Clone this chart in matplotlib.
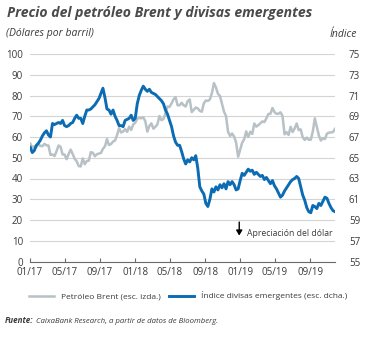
import matplotlib
matplotlib.use("Agg")
import matplotlib.pyplot as plt
from matplotlib.lines import Line2D
import pandas as pd

# ---------------- data (weekly) ----------------
start_date = "2017-01-02"

brent = [56.8, 54.9, 55.5, 55.2, 56.5, 55.7, 55.6, 56.7, 56.0, 55.9,
         51.4, 51.6, 50.8, 53.1, 55.9, 55.3, 51.6, 51.5, 49.3, 51.8,
         53.9, 51.8, 49.5, 48.3, 46.0, 45.8, 49.7, 46.9, 48.4, 48.6,
         52.7, 52.4, 50.7, 51.7, 52.0, 52.3, 54.3, 55.5, 59.0, 56.1,
         56.6, 57.8, 58.3, 60.9, 64.3, 62.2, 62.6, 63.8, 62.5, 65.0,
         63.4, 66.0, 66.9, 68.8, 69.2, 69.0, 69.5, 67.6, 62.6, 65.3,
         66.6, 64.0, 64.9, 66.1, 70.1, 68.1, 68.7, 71.4, 74.7, 74.5,
         76.2, 78.2, 79.2, 75.3, 75.3, 76.5, 75.3, 74.7, 77.3, 78.1,
         72.0, 73.1, 74.2, 73.8, 72.6, 72.2, 76.2, 77.6, 77.4, 78.1,
         81.2, 86.0, 83.9, 80.8, 79.8, 75.9, 72.2, 70.1, 62.5, 60.5,
         61.7, 60.2, 57.3, 50.5, 53.8, 57.3, 58.9, 62.7, 60.0, 62.5,
         61.5, 66.5, 65.0, 65.7, 66.6, 67.5, 67.2, 69.0, 71.1, 71.2,
         74.0, 72.0, 71.2, 71.2, 71.9, 70.1, 61.3, 62.3, 61.0, 64.9,
         62.4, 64.1, 66.5, 63.3, 63.7, 59.8, 58.6, 59.7, 58.7, 58.7,
         62.6, 69.0, 64.8, 60.8, 58.3, 59.4, 59.0, 61.6, 62.1, 62.2,
         62.4, 63.9]

em_index = [66.0, 65.5, 65.7, 66.2, 66.4, 66.7, 67.1, 67.4, 67.6, 67.2,
            67.0, 68.3, 68.2, 68.3, 68.4, 68.3, 68.6, 68.1, 68.0, 68.1,
            68.3, 68.4, 68.8, 69.1, 68.8, 68.8, 68.3, 69.0, 69.6, 69.6,
            69.7, 69.9, 70.1, 70.4, 70.7, 71.2, 71.7, 70.8, 69.7, 69.6,
            69.2, 69.6, 69.0, 68.6, 68.1, 68.1, 68.0, 68.6, 68.7, 68.8,
            69.1, 68.6, 68.8, 70.2, 71.0, 71.5, 71.9, 71.6, 71.4, 71.6,
            71.3, 71.2, 71.1, 70.9, 70.7, 70.5, 70.2, 69.6, 69.2, 68.6,
            68.0, 67.1, 66.5, 66.2, 66.2, 65.6, 64.9, 64.4, 64.8, 64.6,
            65.0, 64.8, 65.2, 64.0, 62.2, 61.8, 61.5, 60.6, 60.3, 61.0,
            62.0, 61.7, 62.2, 61.9, 62.4, 62.1, 62.5, 62.0, 62.7, 62.4,
            62.7, 62.4, 61.9, 62.0, 62.8, 63.5, 63.3, 63.6, 63.9, 63.7,
            63.8, 63.4, 63.6, 63.4, 63.2, 63.3, 62.9, 63.1, 62.8, 62.5,
            62.8, 62.3, 62.0, 61.6, 61.2, 61.4, 61.8, 62.1, 62.4, 62.7,
            62.9, 63.0, 63.2, 63.0, 62.2, 61.4, 60.9, 60.2, 59.8, 59.7,
            60.4, 60.3, 60.1, 60.6, 60.4, 60.8, 61.2, 61.1, 60.6, 60.2,
            59.9, 59.8]

tick_dates = ["2017-01-01", "2017-05-01", "2017-09-01", "2018-01-01",
              "2018-05-01", "2018-09-01", "2019-01-01", "2019-05-01",
              "2019-09-01"]
tick_labels = ["01/17", "05/17", "09/17", "01/18", "05/18", "09/18",
               "01/19", "05/19", "09/19"]
left_ticks = list(range(0, 101, 10))
right_ticks = list(range(55, 76, 2))

title = "Precio del petróleo Brent y divisas emergentes"
subtitle = "(Dólares por barril)"
right_unit = "Índice"
legend_labels = ["Petróleo Brent (esc. izda.)", "Índice divisas emergentes (esc. dcha.)"]
note = "Apreciación del dólar"
source_head = "Fuente:"
source_body = "CaixaBank Research, a partir de datos de Bloomberg."

# ---------------- style ----------------
FONT = ["Open Sans", "DejaVu Sans"]
plt.rcParams["font.family"] = FONT
GRAY = "#b7c1c6"
BLUE = "#0c6cb3"
TXT = "#3a3a3a"
GRID = "#d4d4d4"

dates = pd.date_range(start_date, periods=len(brent), freq="7D")

fig = plt.figure(figsize=(3.68, 3.38), dpi=100)
W, H = 368, 338
ax = fig.add_axes([30 / W, 1 - 261.5 / H, 305 / W, 207.5 / H])
ax2 = ax.twinx()

ax.plot(dates, brent, color=GRAY, lw=1.8, solid_joinstyle="round")
ax2.plot(dates, em_index, color=BLUE, lw=2.1, solid_joinstyle="round")

ax.set_ylim(0, 100)
ax2.set_ylim(55, 75)
ax.set_yticks(left_ticks)
ax2.set_yticks(right_ticks)
ax.set_xlim(pd.Timestamp("2017-01-01"), pd.Timestamp("2019-11-25"))
ax.set_xticks(pd.to_datetime(tick_dates))
ax.set_xticklabels(tick_labels)

ax.grid(axis="y", color=GRID, lw=0.8)
ax.set_axisbelow(True)
for a in (ax, ax2):
    for s in ("top", "right", "left", "bottom"):
        a.spines[s].set_visible(False)
ax.spines["bottom"].set_visible(True)
ax.spines["bottom"].set_color("#6a6a6a")
ax.spines["bottom"].set_linewidth(0.8)

ax.tick_params(axis="y", length=0, pad=5, labelsize=7, labelcolor=TXT)
ax2.tick_params(axis="y", length=0, pad=10, labelsize=7, labelcolor=TXT)
ax.tick_params(axis="x", direction="in", length=3, width=0.8, color="#6a6a6a",
               pad=4, labelsize=7, labelcolor=TXT)

# texts
fig.text(7 / W, 1 - 17 / H, title, fontsize=10.1, fontweight="bold", fontstyle="italic",
         color="#4a4a4a", ha="left", va="baseline")
fig.text(6 / W, 1 - 36 / H, subtitle, fontsize=7.5, fontstyle="italic", color=TXT,
         ha="left", va="baseline")
fig.text(357 / W, 1 - 37 / H, right_unit, fontsize=7.5, fontstyle="italic", color=TXT,
         ha="right", va="baseline")

# annotation
ax.annotate("", xy=(0.686, 0.125), xytext=(0.686, 0.19), xycoords="axes fraction",
            textcoords="axes fraction",
            arrowprops=dict(arrowstyle="-|>,head_width=0.18,head_length=0.3",
                            color="black", lw=1.0, shrinkA=0, shrinkB=0))
ax.text(0.712, 0.135, note, transform=ax.transAxes, fontsize=6.2, color=TXT,
        ha="left", va="center")

# legend
handles = [Line2D([0], [0], color=GRAY, lw=1.8), Line2D([0], [0], color=BLUE, lw=2.1)]
fig.legend(handles, legend_labels, loc="center", bbox_to_anchor=(188 / W, 1 - 296 / H),
           ncol=2, frameon=False, fontsize=6.0, handlelength=3.0, handletextpad=0.8,
           columnspacing=1.0, labelcolor=TXT)

# source line: bold head followed by italic body
t_head = fig.text(5 / W, 1 - 323 / H, source_head, fontsize=5.8, fontweight="bold",
                  fontstyle="italic", color=TXT, ha="left", va="baseline")
fig.canvas.draw()
bb = t_head.get_window_extent(renderer=fig.canvas.get_renderer())
x_body = (bb.x1 + 2) / (fig.dpi * fig.get_figwidth())
fig.text(x_body, 1 - 323 / H, source_body, fontsize=5.6, fontstyle="italic",
         color=TXT, ha="left", va="baseline")

fig.savefig("out.png", dpi=100)
